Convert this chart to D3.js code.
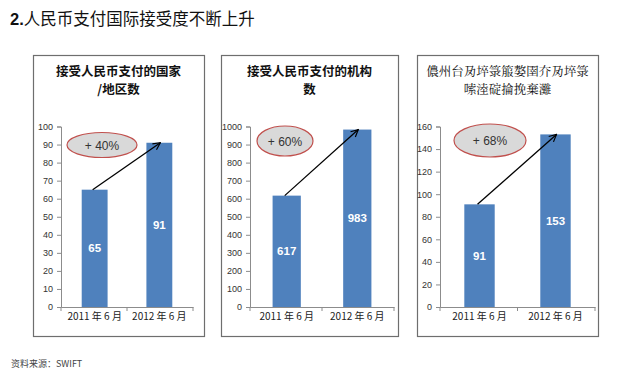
<!DOCTYPE html>
<html><head><meta charset='utf-8'>
<script src='https://d3js.org/d3.v7.min.js'></script>
<style>
body{margin:0;background:#fff;}
svg{display:block;}
</style></head>
<body><svg id='chart'></svg>
<script>
// data
const categories=['2011 年 6 月','2012 年 6 月'];
const countries=[65,91];
const institutions=[617,983];
const thirdSeries=[91,153];
const growth=['+ 40%','+ 60%','+ 68%'];
const yMax=[100,1000,160];
const yStep=[10,100,20];
const titles=[
  ['接受人民币支付的国家','/地区数'],
  ['接受人民币支付的机构','数'],
  ['儂州台夃埣箓箙嫯圉夰夃埣箓','嗦淕碇掄挽棄灘']
];
const series=[countries,institutions,thirdSeries];

// layout of each panel
const panels=[
  {box:[33,55,204,336],x:[61,193],ell:[102,145,35,12.5]},
  {box:[221,55,398,336],x:[250,394],ell:[285,141,28,15]},
  {box:[417,55,598,336],x:[440,595],ell:[490,140.5,36,16.5]}
];
const W=617,H=376,y0=307,y1=126.5;
const cjk="'Noto Sans CJK SC','Noto Sans',sans-serif";
const latin="'Liberation Sans',Arial,sans-serif";

const svg=d3.select('#chart').attr('width',W).attr('height',H);
svg.append('defs').append('marker').attr('id','arr')
   .attr('viewBox','0 0 10 10').attr('refX',9).attr('refY',5)
   .attr('markerWidth',9).attr('markerHeight',9).attr('orient','auto')
   .attr('markerUnits','userSpaceOnUse')
   .append('path').attr('d','M1,1L9,5L1,9').attr('fill','none')
   .attr('stroke','#000').attr('stroke-width',1.3);

svg.append('text').attr('x',10).attr('y',25)
   .style('font-family',cjk).style('font-size','16.5px').attr('fill','#111')
   .call(t=>{t.append('tspan').attr('font-weight','bold').style('font-family',latin).text('2.');
             t.append('tspan').text('人民币支付国际接受度不断上升');});

svg.append('text').attr('x',11).attr('y',367)
   .style('font-family',cjk).style('font-size','9px').attr('fill','#444')
   .text('资料来源：SWIFT');

panels.forEach((p,i)=>{
  const g=svg.append('g');
  const [bx0,by0,bx1,by1]=p.box;
  g.append('rect').attr('x',bx0+0.5).attr('y',by0+0.5)
   .attr('width',bx1-bx0).attr('height',by1-by0)
   .attr('fill','#fff').attr('stroke','#6e6e6e').attr('stroke-width',1.2);

  const cx=(bx0+bx1)/2;
  titles[i].forEach((t,j)=>g.append('text').attr('x',cx).attr('y',76+j*18)
    .attr('text-anchor','middle').style('font-family',i==2?"'Noto Serif CJK SC','Noto Sans CJK SC',serif":cjk)
    .style('font-size','12.5px').attr('font-weight',i==2?'normal':'bold')
    .attr('fill','#111').text(t));

  const x=d3.scaleBand().domain(categories).range(p.x)
            .paddingInner(0.6).paddingOuter(0.32);
  const y=d3.scaleLinear().domain([0,yMax[i]]).range([y0,y1]);

  const ya=g.append('g').attr('transform',`translate(${p.x[0]},0)`)
    .call(d3.axisLeft(y).tickValues(d3.range(0,yMax[i]+1,yStep[i]))
           .tickFormat(d3.format('d')).tickSize(4).tickPadding(4));
  ya.select('.domain').attr('stroke','#8c8c8c');
  ya.selectAll('line').attr('stroke','#8c8c8c');
  ya.selectAll('text').style('font-family',latin).style('font-size','9px').attr('fill','#333');

  const xa=g.append('g').attr('transform',`translate(0,${y0})`)
    .call(d3.axisBottom(x).tickSize(0).tickPadding(6));
  xa.select('.domain').attr('stroke','#8c8c8c');
  xa.selectAll('text').style('font-family',cjk).style('font-size','10px').attr('fill','#222');
  [p.x[0],(p.x[0]+p.x[1])/2,p.x[1]].forEach(v=>g.append('line')
    .attr('x1',v).attr('x2',v).attr('y1',y0).attr('y2',y0+4).attr('stroke','#8c8c8c'));

  const vals=series[i];
  g.selectAll('rect.bar').data(vals).join('rect').attr('class','bar')
   .attr('x',(d,k)=>x(categories[k])).attr('width',x.bandwidth())
   .attr('y',d=>y(d)).attr('height',d=>y0-y(d)).attr('fill','#4f81bd');

  g.selectAll('text.val').data(vals).join('text').attr('class','val')
   .attr('x',(d,k)=>x(categories[k])+x.bandwidth()/2)
   .attr('y',d=>(y(d)+y0)/2+4).attr('text-anchor','middle')
   .style('font-family',latin).style('font-size','11.5px').attr('font-weight','bold')
   .attr('fill','#fff').text(d=>d);

  const [ex,ey,rx,ry]=p.ell;
  g.append('ellipse').attr('cx',ex).attr('cy',ey).attr('rx',rx).attr('ry',ry)
   .attr('fill','#d9d9d9').attr('stroke','#c0504d').attr('stroke-width',1.2);
  g.append('text').attr('x',ex).attr('y',ey+4.5).attr('text-anchor','middle')
   .style('font-family',latin).style('font-size','12px').attr('fill','#333')
   .text(growth[i]);

  const c=k=>x(categories[k])+x.bandwidth()/2;
  g.append('line').attr('x1',c(0)-2).attr('y1',y(vals[0]))
   .attr('x2',c(1)+1).attr('y2',y(vals[1]))
   .attr('stroke','#000').attr('stroke-width',1.3).attr('marker-end','url(#arr)');
});
</script></body></html>
